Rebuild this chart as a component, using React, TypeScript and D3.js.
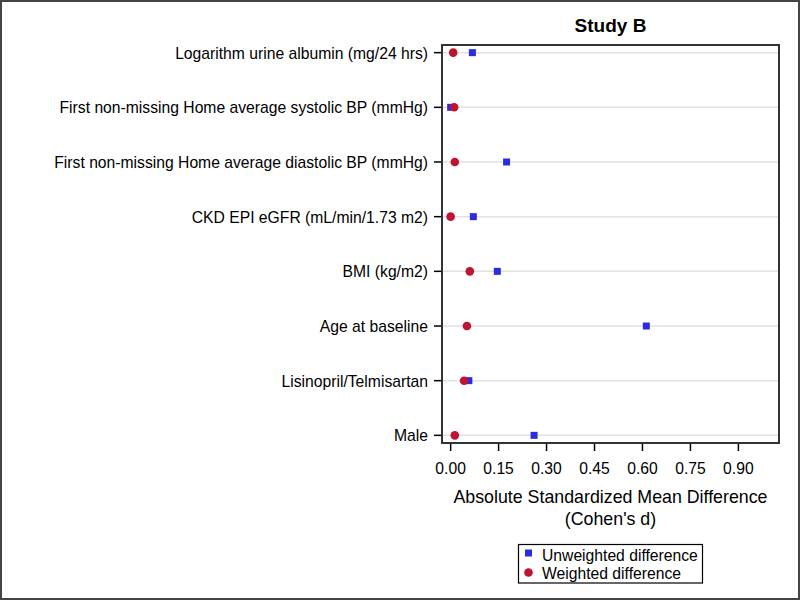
import React from "react";
import * as d3 from "d3";

const categories = [
  "Logarithm urine albumin (mg/24 hrs)",
  "First non-missing Home average systolic BP (mmHg)",
  "First non-missing Home average diastolic BP (mmHg)",
  "CKD EPI eGFR (mL/min/1.73 m2)",
  "BMI (kg/m2)",
  "Age at baseline",
  "Lisinopril/Telmisartan",
  "Male",
];
const unweighted = [0.068, 0.0, 0.175, 0.071, 0.146, 0.612, 0.057, 0.261];
const weighted = [0.008, 0.011, 0.013, 0.0, 0.06, 0.051, 0.042, 0.013];
const xTicks = [0, 0.15, 0.3, 0.45, 0.6, 0.75, 0.9];

const W = 800;
const H = 600;
const L = 442;
const R = 779;
const T = 45;
const B = 443;
const FONT = "'Liberation Sans', Arial, sans-serif";
const BLUE = "#2b2bdf";
const RED = "#bf1330";

export default function App() {
  const x = d3.scaleLinear().domain([-0.027, 1.027]).range([L, R]);
  const y = d3.scalePoint<string>().domain(categories).range([T, B]).padding(0.14);
  const sq = 7;
  const cr = 4.3;
  return (
    <svg width={W} height={H} style={{ position: "absolute", left: 0, top: 0, background: "#fff" }} fontFamily={FONT}>
      <rect x={1} y={1} width={W - 2} height={H - 2} fill="#fff" stroke="#444" strokeWidth={2} />
      <text x={(L + R) / 2} y={31.5} textAnchor="middle" fontWeight="bold" fontSize={19} fill="#000">Study B</text>
      {categories.map((c) => (
        <line key={"g" + c} x1={L} x2={R} y1={y(c)} y2={y(c)} stroke="#e1e1e1" strokeWidth={1.5} />
      ))}
      {categories.map((c) => (
        <g key={"t" + c}>
          <line x1={L - 8} x2={L} y1={y(c)} y2={y(c)} stroke="#000" strokeWidth={1.5} />
          <text x={L - 14} y={(y(c) as number) + 6} textAnchor="end" fontSize={15.7} fill="#000">{c}</text>
        </g>
      ))}
      {xTicks.map((t) => (
        <g key={"x" + t}>
          <line x1={x(t)} x2={x(t)} y1={B} y2={B + 8} stroke="#000" strokeWidth={1.5} />
          <text x={x(t)} y={B + 31} textAnchor="middle" fontSize={15.7} fill="#000">{t.toFixed(2)}</text>
        </g>
      ))}
      <text x={(L + R) / 2} y={503} textAnchor="middle" fontSize={17.8} fill="#000">Absolute Standardized Mean Difference</text>
      <text x={(L + R) / 2} y={525} textAnchor="middle" fontSize={17.8} fill="#000">(Cohen's d)</text>
      {categories.map((c, i) => (
        <rect key={"s" + c} x={x(unweighted[i]) - sq / 2} y={(y(c) as number) - sq / 2} width={sq} height={sq} fill={BLUE} />
      ))}
      {categories.map((c, i) => (
        <circle key={"c" + c} cx={x(weighted[i])} cy={y(c)} r={cr} fill={RED} />
      ))}
      <rect x={L} y={T} width={R - L} height={B - T} fill="none" stroke="#333" strokeWidth={2} />
      <g>
        <rect x={518.5} y={544.5} width={184} height={38.5} fill="#fff" stroke="#000" strokeWidth={1.2} />
        <rect x={525} y={549.5} width={7} height={7} fill={BLUE} />
        <text x={542} y={560.5} fontSize={15.7} fill="#000">Unweighted difference</text>
        <circle cx={528.5} cy={572.5} r={4.3} fill={RED} />
        <text x={542} y={578.5} fontSize={15.7} fill="#000">Weighted difference</text>
      </g>
    </svg>
  );
}
